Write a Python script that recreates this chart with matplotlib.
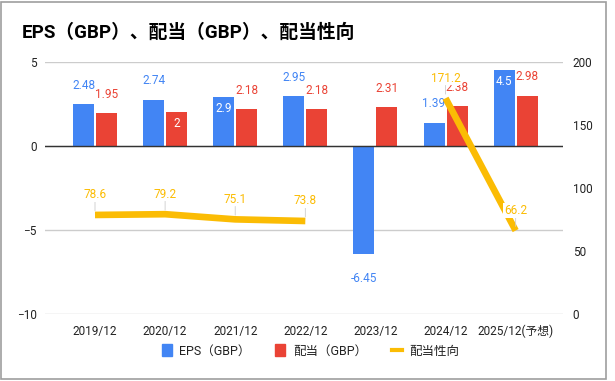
import matplotlib.pyplot as plt
from matplotlib.patches import Patch, Rectangle
from matplotlib.lines import Line2D
import numpy as np

plt.rcParams['font.family'] = ['Roboto', 'Noto Sans CJK JP', 'DejaVu Sans']

categories = ['2019/12', '2020/12', '2021/12', '2022/12', '2023/12', '2024/12', '2025/12(予想)']
eps = [2.48, 2.74, 2.9, 2.95, -6.45, 1.39, 4.5]
dividend = [1.95, 2, 2.18, 2.18, 2.31, 2.38, 2.98]
payout = [78.6, 79.2, 75.1, 73.8, np.nan, 171.2, 66.2]

BLUE = '#4285F4'
RED = '#EA4335'
YELLOW = '#FBBC04'

fig = plt.figure(figsize=(6.15, 3.81), dpi=100)
fig.patches.append(Rectangle((0.002, 0.004), 0.984, 0.992, transform=fig.transFigure,
                             fill=False, edgecolor='#9e9e9e', lw=1.2))

ax = fig.add_axes([0.0732, 0.1759, 0.8423, 0.6614])
ax2 = ax.twinx()
ax.set_zorder(ax2.get_zorder() - 1)
ax.patch.set_visible(False)

x = np.arange(len(categories))
w = 0.3
off = 0.164
ax.bar(x - off, eps, w, color=BLUE, zorder=3)
ax.bar(x + off, dividend, w, color=RED, zorder=3)

ax.set_xlim(-0.713, 6.676)
ax.set_ylim(-10, 5)
ax.set_yticks([-10, -5, 0, 5])
ax.grid(axis='y', color='#cccccc', lw=1, zorder=0)
ax.axhline(0, color='#333333', lw=1, zorder=4)
ax.set_xticks(x)
ax.set_xticklabels(categories)
for s in ax.spines.values():
    s.set_visible(False)
ax.tick_params(length=0, labelsize=8.5, colors='#222222')
ax.tick_params(axis='x', pad=8)
ax.tick_params(axis='y', pad=6)

# bar labels
inside = {(0, 2), (1, 1), (0, 6)}
for si, (vals, col, dx) in enumerate([(eps, BLUE, -off), (dividend, RED, off)]):
    for i, v in enumerate(vals):
        if (si, i) in inside:
            dy, c = -11, 'white'
        elif v < 0:
            dy, c = -24, col
        else:
            dy, c = 19, col
        ax.annotate(f'{v:g}', xy=(i + dx, v), xytext=(0, dy), textcoords='offset pixels',
                    ha='center', va='center', fontsize=8.5, color=c, zorder=6)

ax2.plot(x, payout, color=YELLOW, lw=4.8, solid_capstyle='butt', zorder=5)
ax2.set_ylim(0, 200)
ax2.set_yticks([0, 50, 100, 150, 200])
for s in ax2.spines.values():
    s.set_visible(False)
ax2.tick_params(length=0, labelsize=8.5, colors='#222222', pad=7)

for i, v in enumerate(payout):
    if np.isnan(v):
        continue
    ax2.annotate(f'{v:g}', xy=(i, v), xytext=(0, 20), textcoords='offset pixels',
                 ha='center', va='center', fontsize=8.5, color=YELLOW, zorder=7,
                 bbox=dict(boxstyle='square,pad=0.05', fc='white', ec='none'),
                 arrowprops=dict(arrowstyle='-', color='#cccccc', lw=0.6, shrinkA=0, shrinkB=3))

fig.text(22 / 615, 1 - 33 / 381, 'EPS（GBP）、配当（GBP）、配当性向', fontsize=13.5,
         fontweight='bold', ha='left', va='center', color='#000000')

handles = [Patch(color=BLUE), Patch(color=RED), Line2D([], [], color=YELLOW, lw=3)]
fig.legend(handles, ['EPS（GBP）', '配当（GBP）', '配当性向'], loc='center',
           bbox_to_anchor=(0.505, 1 - 351 / 381), ncol=3, frameon=False, fontsize=9,
           handlelength=0.8, handleheight=1.1, handletextpad=0.6, columnspacing=2.0,
           labelcolor='#222222')

fig.savefig('out.png', dpi=100)
